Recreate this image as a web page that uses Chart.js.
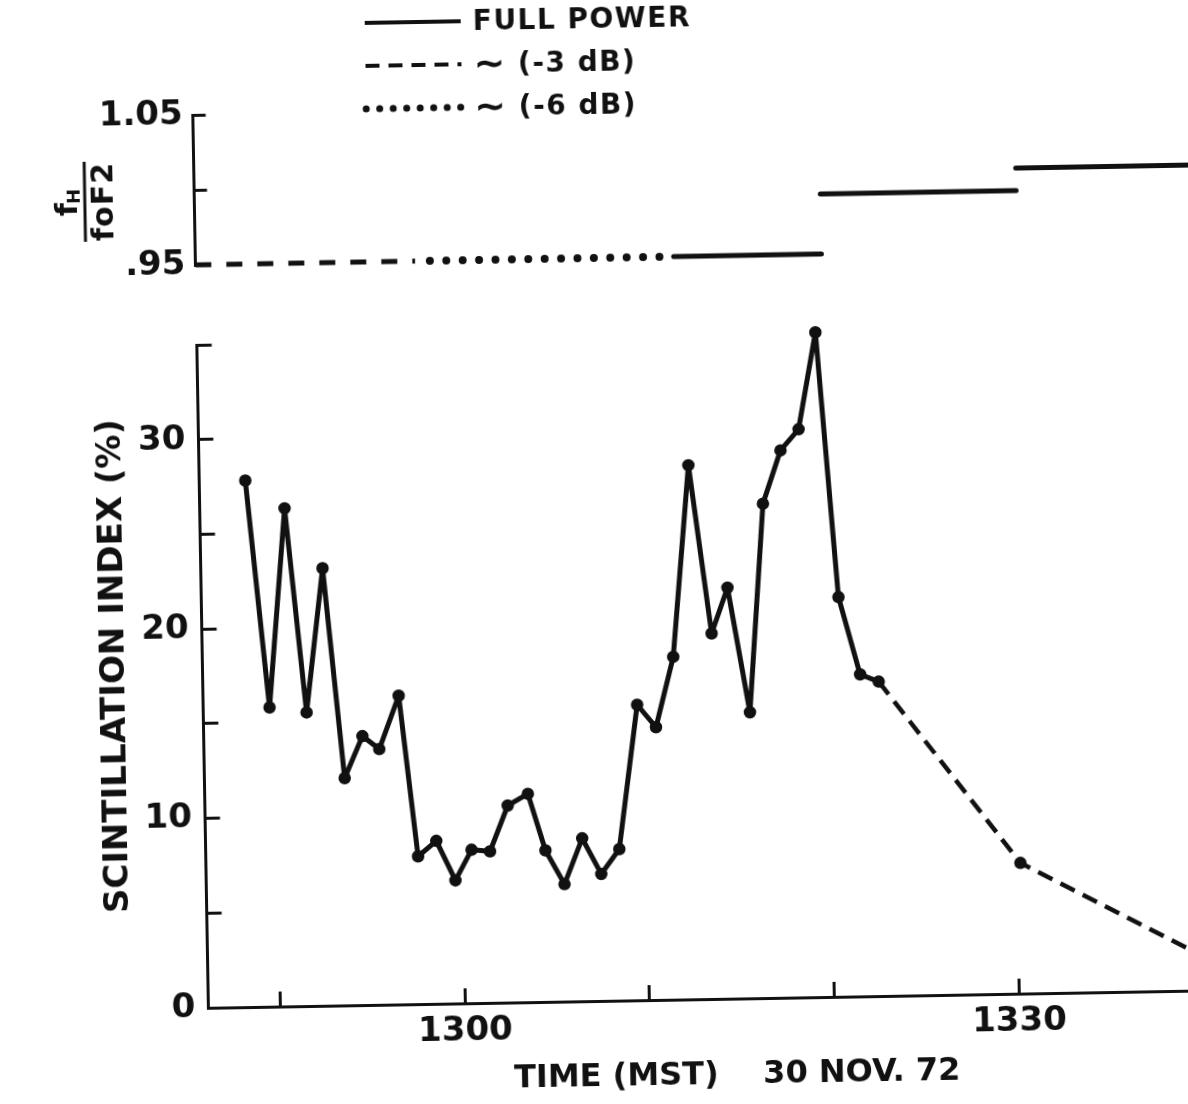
<!DOCTYPE html>
<html>
<head>
<meta charset="utf-8">
<title>Scintillation index, 30 Nov. 72</title>
<script src="https://cdn.jsdelivr.net/npm/chart.js@4.4.1/dist/chart.umd.min.js"></script>
<style>
  html, body { margin: 0; padding: 0; background: #fff; overflow: hidden; }
  #sheet { position: absolute; left: 0; top: 0; width: 1256px; height: 1110px;
           transform-origin: 594px 552px; transform: rotate(-1deg); }
  #ratioChart { position: absolute; left: 0; top: 0; }
  #scintChart { position: absolute; left: 0; top: 300px; }
</style>
</head>
<body>
<div id="sheet">
  <canvas id="ratioChart" width="1256" height="300"></canvas>
  <canvas id="scintChart" width="1256" height="810"></canvas>
</div>
<script>
// time axis, minutes after 1300 MST
const timeMin = -13.9;
const timeMax = 43.25;
const timeTicks = [-10, 0, 10, 20, 30];
const timeTickLabels = ['', '1300', '', '', '1330'];

// scintillation index readings (%)
const minutes = [-11.4, -10.3, -9.3, -8.3, -7.3, -6.3, -5.3, -4.4, -3.3, -2.4, -1.4, -0.4,
  0.5, 1.5, 2.5, 3.6, 4.5, 5.5, 6.5, 7.5, 8.5, 9.6, 10.6, 11.6, 12.6, 13.7, 14.6, 15.7,
  16.6, 17.6, 18.6, 19.6, 20.6, 21.7, 22.7, 30.2, 40.0];
const scintIndex = [27.8, 15.8, 26.3, 15.5, 23.1, 12.0, 14.2, 13.5, 16.3, 7.8, 8.6, 6.5,
  8.1, 8.0, 10.4, 11.0, 8.0, 6.2, 8.6, 6.7, 8.0, 15.6, 14.4, 18.1, 28.2, 19.3, 21.7, 15.1,
  26.1, 28.9, 30.0, 35.1, 21.1, 17.0, 16.6, 6.9, 1.8];
const dashedFrom = 22.7;
const indexTicks = [0, 5, 10, 15, 20, 25, 30, 35];
const indexTickLabels = ['0', '', '10', '', '20', '', '30', ''];

// heater frequency / foF2, one step per power setting
const stepStart = [-13.9, -1.2, 12.0, 20.0, 30.6];
const stepEnd = [-2.0, 11.3, 20.0, 30.6, 44.0];
const stepRatio = [0.95, 0.95, 0.95, 0.99, 1.005];
const stepPower = ['-3', '-6', 'full', 'full', 'full'];
const ratioTicks = [0.95, 1.0, 1.05];
const ratioTickLabels = ['.95', '', '1.05'];

const legendKeys = ['full', '-3', '-6'];
const legendLabels = ['FULL POWER', '\u223C (-3 dB)', '\u223C (-6 dB)'];

const ink = '#111';
const face = '"DejaVu Sans", "Liberation Sans", sans-serif';
Chart.defaults.font.family = face;
Chart.defaults.font.weight = 'bold';
Chart.defaults.color = ink;

const powerStyle = {
  'full': { borderWidth: 5, borderDash: [], borderCapStyle: 'round' },
  '-3': { borderWidth: 5, borderDash: [16, 15], borderCapStyle: 'butt' },
  '-6': { borderWidth: 8, borderDash: [0, 16.4], borderCapStyle: 'round' }
};
const legendStyle = {
  'full': { width: 4, dash: [], cap: 'butt' },
  '-3': { width: 4, dash: [14, 9], cap: 'butt' },
  '-6': { width: 7, dash: [0, 13.5], cap: 'round' }
};

// keep the plot area exactly where the axes put it (no label overhang padding)
const fixWidth = w => s => { s.width = w; s.paddingTop = 0; s.paddingBottom = 0; };
const fixHeight = h => s => { s.height = h; s.paddingLeft = 0; s.paddingRight = 0; };

const powerLegend = {
  id: 'powerLegend',
  afterDraw(chart, args, opts) {
    const { ctx } = chart;
    ctx.save();
    ctx.strokeStyle = ink;
    ctx.fillStyle = ink;
    ctx.letterSpacing = opts.letterSpacing;
    ctx.textBaseline = 'middle';
    legendKeys.forEach((key, i) => {
      const y = opts.top + i * opts.rowGap;
      const s = legendStyle[key];
      ctx.lineWidth = s.width;
      ctx.lineCap = s.cap;
      ctx.setLineDash(s.dash);
      ctx.beginPath();
      ctx.moveTo(opts.left, y);
      ctx.lineTo(opts.left + opts.sample, y);
      ctx.stroke();
      ctx.setLineDash([]);
      let x = opts.left + opts.sample + opts.gap;
      let text = legendLabels[i];
      // the tilde is lettered larger than the rest
      if (text.startsWith('\u223C')) {
        ctx.font = opts.tildeFont;
        ctx.fillText('\u223C', x, y + opts.textShift);
        x += ctx.measureText('\u223C').width;
        text = text.slice(1);
      }
      ctx.font = opts.font;
      ctx.fillText(text, x, y + opts.textShift);
    });
    ctx.restore();
  }
};

// f_H over foF2, written sideways beside the upper axis
const ratioLabel = {
  id: 'ratioLabel',
  afterDraw(chart, args, opts) {
    const { ctx } = chart;
    ctx.save();
    ctx.translate(opts.x, opts.y);
    ctx.rotate(-Math.PI / 2);
    ctx.fillStyle = ink;
    ctx.strokeStyle = ink;
    ctx.letterSpacing = '1px';
    ctx.textBaseline = 'alphabetic';
    ctx.textAlign = 'left';
    ctx.font = 'bold ' + opts.size + 'px ' + face;
    ctx.fillText('f', -14, -8);
    ctx.font = 'bold ' + Math.round(opts.size * 0.6) + 'px ' + face;
    ctx.fillText('H', -2, -5);
    ctx.lineWidth = 3;
    ctx.beginPath();
    ctx.moveTo(-opts.bar / 2, 0);
    ctx.lineTo(opts.bar / 2, 0);
    ctx.stroke();
    ctx.textAlign = 'center';
    ctx.textBaseline = 'top';
    ctx.font = 'bold ' + opts.size + 'px ' + face;
    ctx.fillText('foF2', 0, 5);
    ctx.restore();
  }
};

const ratioChart = new Chart(document.getElementById('ratioChart'), {
  type: 'line',
  data: {
    datasets: stepStart.map((s, i) => Object.assign({
      label: stepPower[i],
      data: [{ x: s, y: stepRatio[i] }, { x: stepEnd[i], y: stepRatio[i] }],
      borderColor: ink,
      pointRadius: 0,
      clip: { left: 0, right: 0, top: 8, bottom: 8 }
    }, powerStyle[stepPower[i]]))
  },
  options: {
    responsive: false,
    animation: false,
    events: [],
    layout: { autoPadding: false, padding: { top: 108.1, bottom: 41.9, left: 0, right: 0 } },
    plugins: {
      legend: { display: false },
      tooltip: { enabled: false },
      powerLegend: { left: 374, top: 19, rowGap: 43, sample: 96, gap: 12, textShift: 2,
                     font: 'bold 28px ' + face, tildeFont: 'bold 38px ' + face,
                     letterSpacing: '1.5px' },
      ratioLabel: { x: 91, y: 193, size: 30, bar: 80 }
    },
    scales: {
      x: { type: 'linear', display: false, min: timeMin, max: timeMax },
      y: {
        type: 'linear', min: 0.95, max: 1.05,
        afterBuildTicks: s => { s.ticks = ratioTicks.map(v => ({ value: v })); },
        afterFit: fixWidth(200.4),
        grid: { drawOnChartArea: false, tickLength: -13, tickWidth: 3, tickColor: ink },
        border: { display: true, color: ink, width: 3 },
        ticks: {
          padding: 23, color: ink, font: { size: 34, lineHeight: 1.2 },
          callback: v => ratioTickLabels[ratioTicks.indexOf(v)]
        }
      }
    }
  },
  plugins: [powerLegend, ratioLabel]
});

const scintChart = new Chart(document.getElementById('scintChart'), {
  type: 'line',
  data: {
    datasets: [{
      label: 'SCINTILLATION INDEX (%)',
      data: minutes.map((m, i) => ({ x: m, y: scintIndex[i] })),
      borderColor: ink,
      backgroundColor: ink,
      borderWidth: 5,
      borderJoinStyle: 'round',
      borderCapStyle: 'butt',
      pointRadius: 5.5,
      pointBorderWidth: 1.5,
      pointBackgroundColor: ink,
      pointBorderColor: ink,
      clip: false,
      segment: {
        borderDash: c => c.p0.parsed.x >= dashedFrom ? [16, 9] : undefined,
        borderWidth: c => c.p0.parsed.x >= dashedFrom ? 4.5 : undefined
      }
    }]
  },
  options: {
    responsive: false,
    animation: false,
    events: [],
    layout: { autoPadding: false, padding: { top: 38.1, bottom: 0, left: 0, right: 0 } },
    plugins: {
      legend: { display: false },
      tooltip: { enabled: false }
    },
    scales: {
      x: {
        type: 'linear', min: timeMin, max: timeMax,
        afterBuildTicks: s => { s.ticks = timeTicks.map(v => ({ value: v })); },
        afterFit: fixHeight(109),
        grid: { drawOnChartArea: false, tickLength: -15, tickWidth: 3, tickColor: ink },
        border: { display: true, color: ink, width: 3 },
        ticks: {
          padding: 23, color: ink, maxRotation: 0, autoSkip: false,
          font: { size: 34, lineHeight: 1.2 },
          callback: v => timeTickLabels[timeTicks.indexOf(v)]
        },
        title: {
          display: true, text: 'TIME (MST)    30 NOV. 72', color: ink,
          font: { size: 32, lineHeight: 1.2 }, padding: { top: 0, bottom: 13.4 }
        }
      },
      y: {
        type: 'linear', min: 0, max: 35,
        afterBuildTicks: s => { s.ticks = indexTicks.map(v => ({ value: v })); },
        afterFit: fixWidth(200.4),
        grid: { drawOnChartArea: false, tickLength: -15, tickWidth: 3, tickColor: ink },
        border: { display: true, color: ink, width: 3 },
        ticks: {
          padding: 28, color: ink, font: { size: 34, lineHeight: 1.2 },
          callback: v => indexTickLabels[indexTicks.indexOf(v)]
        },
        title: {
          display: true, text: '  SCINTILLATION INDEX (%)', color: ink,
          font: { size: 34, lineHeight: 1.2 }, padding: { top: 93, bottom: 0 }
        }
      }
    }
  }
});
</script>
</body>
</html>
